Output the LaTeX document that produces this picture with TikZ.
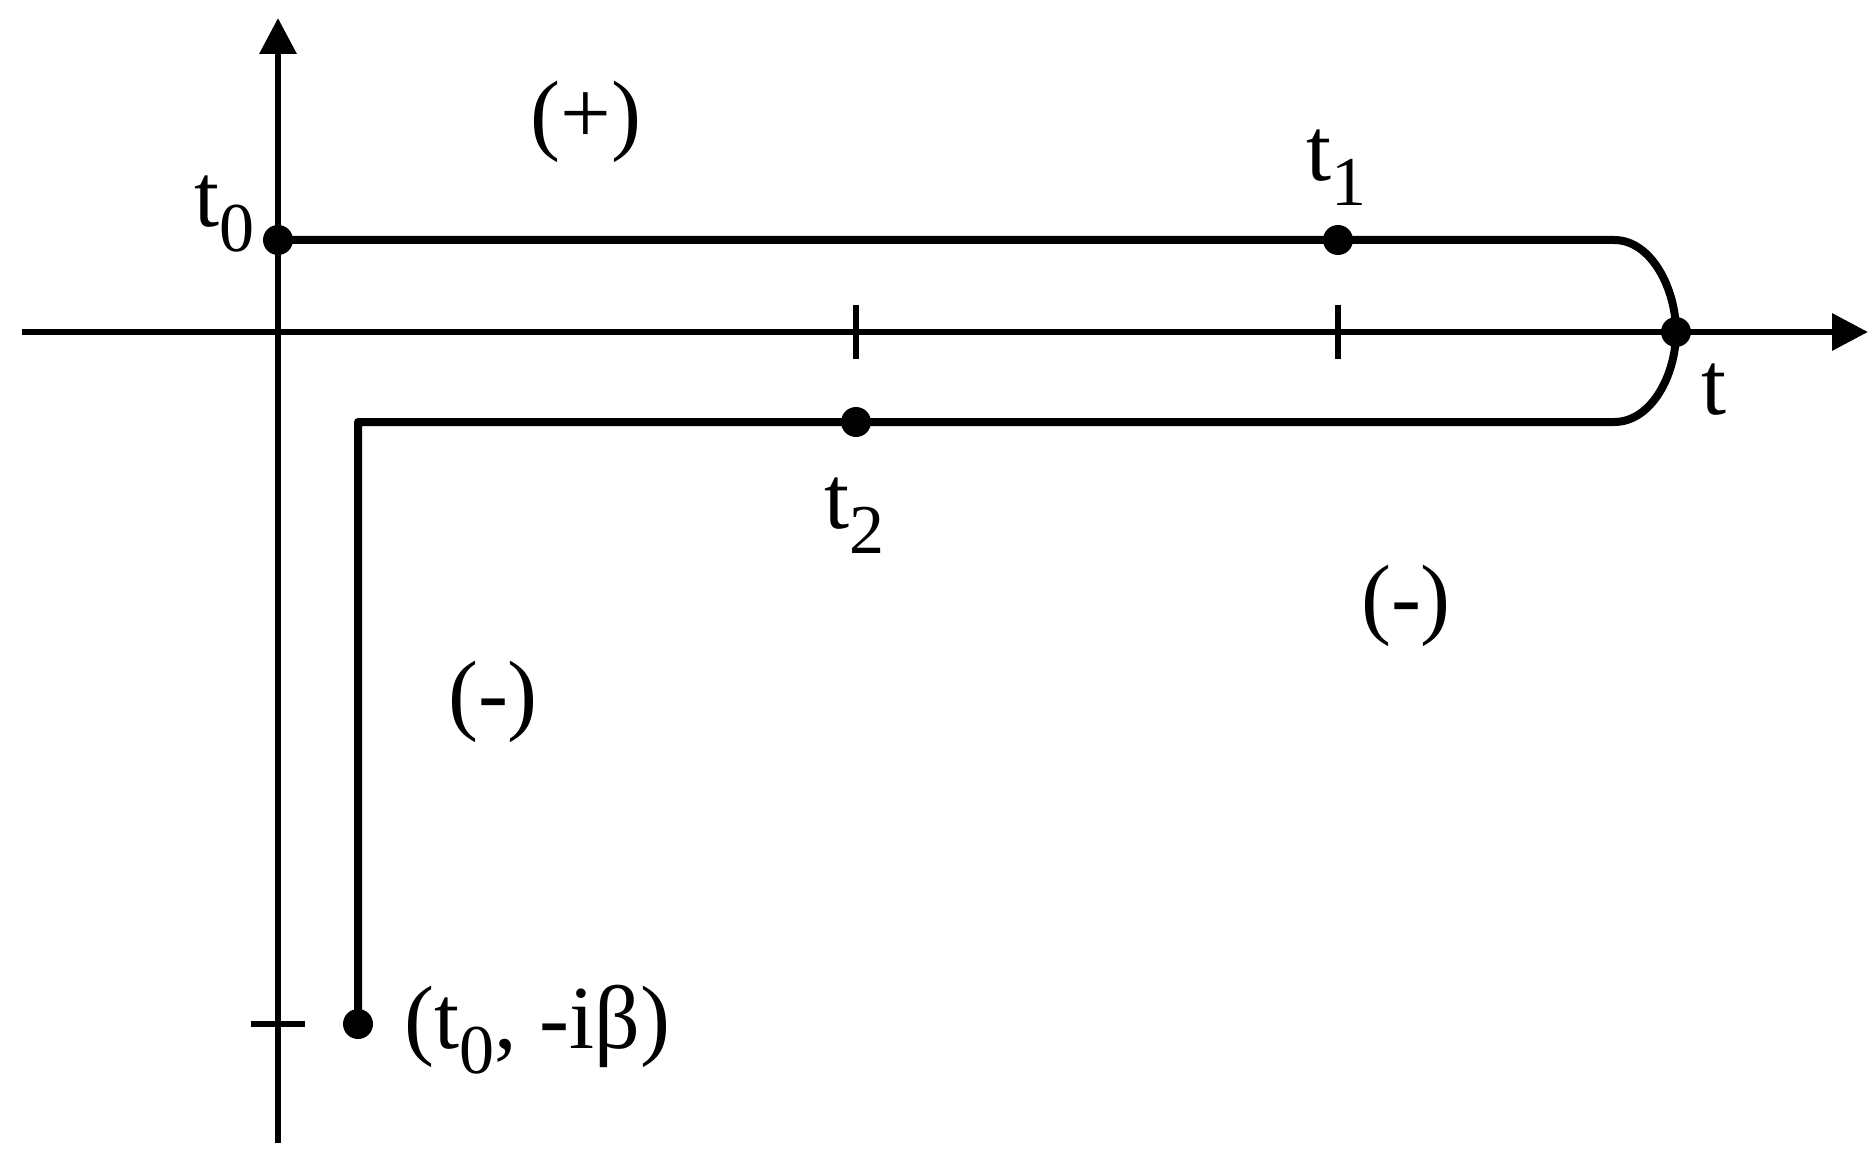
\documentclass[tikz,border=0pt]{standalone}
\usepackage{fontspec}
\setmainfont{Liberation Serif}
\usetikzlibrary{arrows.meta}
\newcommand\lsub[1]{\raisebox{-0.28em}{\fontsize{35}{35}\selectfont #1}}
\begin{document}
\begin{tikzpicture}[x=0.5pt,y=-0.5pt,
  axisline/.style={line width=3.3pt,-{Triangle[length=18pt,width=18pt]}},
  contour/.style={line width=4pt,line join=round},
  tickline/.style={line width=3.3pt},
  dotnode/.style={circle,fill=black,inner sep=0pt,minimum size=15pt},
  lab/.style={inner sep=0pt,font=\fontsize{45}{50}\selectfont}]
\useasboundingbox (0,0) rectangle (1875,1155);
% coordinates
\coordinate (vb) at (278,1143);
\coordinate (vt) at (278,18);
\coordinate (hl) at (22,332);
\coordinate (hr) at (1868,332);
\coordinate (p0) at (278,240);
\coordinate (p1) at (1338,240);
\coordinate (pt) at (1676,332);
\coordinate (p2) at (856,422);
\coordinate (pc) at (358,422);
\coordinate (pe) at (358,1024);
\coordinate (ur) at (1614,240);
\coordinate (lr) at (1614,422);
\coordinate (k1) at (856,332);
\coordinate (k2) at (1338,332);
\coordinate (k3) at (278,1024);
% axes
\draw[axisline] (vb) -- (vt);
\draw[axisline] (hl) -- (hr);
% ticks
\draw[tickline] (k1) ++(0,-27) -- ++(0,54);
\draw[tickline] (k2) ++(0,-27) -- ++(0,54);
\draw[tickline] (k3) ++(-27,0) -- ++(54,0);
% contour
\draw[contour] (p0) -- (p1) -- (ur)
  .. controls (1652,240) and (1676,290) .. (pt)
  .. controls (1676,374) and (1652,422) .. (lr)
  -- (p2) -- (pc) -- (pe);
% dots
\node[dotnode] (d0) at (p0) {};
\node[dotnode] (d1) at (p1) {};
\node[dotnode] (dt) at (pt) {};
\node[dotnode] (d2) at (p2) {};
\node[dotnode] (de) at (pe) {};
% labels
\node[lab] (lt0) at (224,214) {t\lsub{0}};
\node[lab] (lplus) at (586,122) {(+)};
\node[lab] (lt1) at (1336,168) {t\lsub{1}};
\node[lab] (lt) at (1714,390) {t};
\node[lab] (lt2) at (854,516) {t\lsub{2}};
\node[lab] (lm1) at (1406,606) {(-)};
\node[lab] (lm2) at (493,702) {(-)};
\node[lab,anchor=west] (lbeta) at (404,1030) {(t\lsub{0}, -iβ)};
\end{tikzpicture}
\end{document}
